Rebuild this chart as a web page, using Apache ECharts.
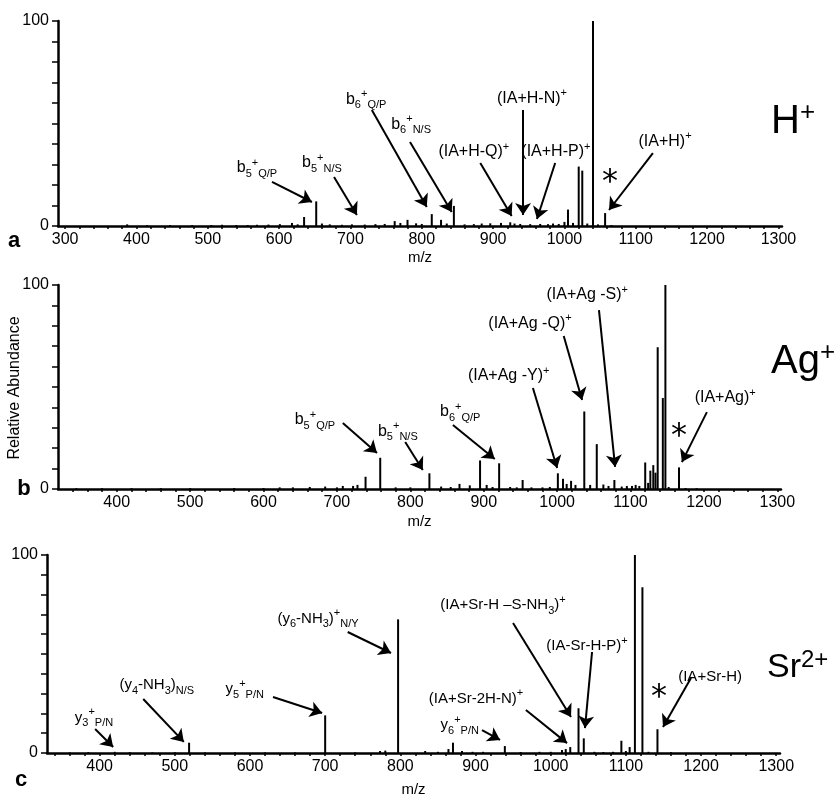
<!DOCTYPE html>
<html>
<head>
<meta charset="utf-8">
<script src="https://cdn.jsdelivr.net/npm/echarts@6/dist/echarts.min.js"></script>
<style>
  html, body { margin: 0; padding: 0; background: #fff; }
  #chart { width: 837px; height: 796px; }
</style>
</head>
<body>
<div id="chart"></div>
<script>
// ---- Spectrum a: H+ adduct (m/z, relative abundance %) ----
const mzH = [387, 415, 447, 478, 505, 520, 540, 556, 569, 585, 601, 618, 626, 635, 652, 660, 671, 688, 702, 720, 735, 748, 762, 770, 780, 792, 800, 814, 827, 835, 845, 860, 873, 884, 896, 911, 924, 930, 938, 952, 966, 977, 984, 992, 1000, 1005, 1012, 1020, 1025, 1032, 1040, 1047, 1057, 1066];
const abH = [0.8, 0.4, 0.4, 0.4, 0.5, 0.6, 0.5, 0.5, 0.6, 0.7, 0.9, 1.5, 0.8, 4.4, 12, 1.2, 0.8, 0.6, 0.8, 0.7, 0.9, 1.0, 2.4, 1.5, 3.0, 1.3, 1.0, 5.8, 3.0, 1.2, 9.8, 0.8, 0.9, 1.2, 1.3, 1.5, 1.8, 1.2, 1.0, 0.9, 1.0, 0.9, 1.2, 1.0, 2.0, 8.0, 1.5, 29, 27, 1.2, 100, 0.8, 6.3, 0.5];

// ---- Spectrum b: Ag+ adduct ----
const mzAg = [345, 380, 420, 460, 500, 560, 600, 622, 640, 663, 684, 700, 708, 722, 728, 739, 759, 780, 800, 826, 842, 855, 867, 881, 895, 904, 912, 921, 936, 945, 953, 965, 980, 990, 1001, 1008, 1013, 1019, 1025, 1037, 1045, 1054, 1063, 1070, 1078, 1088, 1095, 1102, 1107, 1112, 1120, 1124, 1127, 1131, 1134, 1137, 1144, 1147.5, 1152, 1166, 1175, 1190];
const abAg = [0.4, 0.4, 0.4, 0.4, 0.4, 0.5, 0.5, 0.8, 0.8, 1.0, 1.2, 0.8, 1.5, 1.5, 2.0, 6.0, 15.3, 0.8, 0.8, 7.7, 1.2, 1.0, 2.5, 1.8, 14, 2.0, 1.0, 12.6, 1.0, 0.8, 4.4, 0.8, 0.8, 1.0, 7.7, 5.0, 2.5, 4.0, 2.0, 38, 2.0, 22, 2.2, 1.5, 4.4, 1.2, 1.5, 1.5, 2.0, 1.5, 13, 3.0, 9.0, 11.7, 8.0, 69.5, 44.6, 100, 1.0, 10.6, 0.5, 0.4];

// ---- Spectrum c: Sr2+ adduct ----
const mzSr = [360, 385, 420, 440, 470, 500, 519, 540, 580, 620, 660, 700, 740, 773, 780, 797, 833, 850, 864, 870, 882, 896, 910, 939, 960, 985, 1000, 1015, 1020, 1026, 1037, 1044, 1058, 1070, 1083, 1094, 1100, 1105, 1112, 1122, 1130, 1142, 1160];
const abSr = [0.3, 0.4, 0.6, 0.4, 0.3, 0.4, 5.2, 0.3, 0.3, 0.3, 0.3, 19, 0.3, 1.0, 1.2, 67.5, 1.0, 0.6, 2.0, 5.2, 1.0, 0.6, 0.6, 3.5, 0.5, 0.6, 0.6, 1.5, 2.0, 3.0, 22.6, 7.4, 0.6, 0.5, 0.6, 6.2, 1.0, 3.0, 100, 83.7, 0.6, 12, 0.4];

// ---- Axis tick labels ----
const ticksH = [300, 400, 500, 600, 700, 800, 900, 1000, 1100, 1200, 1300];
const ticksAgSr = [400, 500, 600, 700, 800, 900, 1000, 1100, 1200, 1300];
const abundanceLabels = [0, 100];

// ---- Fragment labels: text, label anchor, arrow start, arrow tip (data coords) ----
const calloutsH = [
  { text: 'b{sub|5}{sup|+}{sub|Q/P}', at: [569, 28.3], from: [590, 21.5], to: [646, 11.7] },
  { text: 'b{sub|5}{sup|+}{sub|N/S}', at: [660, 30.7], from: [677, 23.9], to: [709, 5.4] },
  { text: 'b{sub|6}{sup|+}{sub|Q/P}', at: [722, 61.5], from: [730, 56.6], to: [807, 9.3] },
  { text: 'b{sub|6}{sup|+}{sub|N/S}', at: [785, 49.3], from: [783.5, 41], to: [842, 6.8] },
  { text: '(IA+H-Q){sup|+}', at: [873, 36.1], from: [882, 30.7], to: [926, 4.9] },
  { text: '(IA+H-N){sup|+}', at: [954.5, 62], from: [942, 56.6], to: [942, 5.4] },
  { text: '(IA+H-P){sup|+}', at: [988, 36.1], from: [987, 30.7], to: [961.5, 3.4] },
  { text: '(IA+H){sup|+}', at: [1141, 41], from: [1124, 35.6], to: [1062.5, 7.8] }
];
const calloutsAg = [
  { text: 'b{sub|5}{sup|+}{sub|Q/P}', at: [670, 33.8], from: [708, 32.4], to: [754.6, 17.6] },
  { text: 'b{sub|5}{sup|+}{sub|N/S}', at: [783, 28], from: [793, 23], to: [817, 9.3] },
  { text: 'b{sub|6}{sup|+}{sub|Q/P}', at: [868, 37.7], from: [858, 31.4], to: [915, 14.7] },
  { text: '(IA+Ag -Y){sup|+}', at: [934, 55.4], from: [967, 49.5], to: [1000, 10.3] },
  { text: '(IA+Ag -Q){sup|+}', at: [963, 80.9], from: [1009, 75], to: [1034, 43.6] },
  { text: '(IA+Ag -S){sup|+}', at: [1041, 95.1], from: [1057, 87.7], to: [1079, 10.8] },
  { text: '(IA+Ag){sup|+}', at: [1229, 44.6], from: [1204, 37.7], to: [1170, 13.2] }
];
const calloutsSr = [
  { text: 'y{sub|3}{sup|+}{sub|P/N}', at: [392.5, 17.7], from: [394, 12.1], to: [418, 3] },
  { text: '(y{sub|4}-NH{sub|3}){sub|N/S}', at: [476, 34.3], from: [458, 27.3], to: [512, 5.6] },
  { text: 'y{sub|5}{sup|+}{sub|P/N}', at: [593, 32.3], from: [630.6, 28.3], to: [696, 20.2] },
  { text: '(y{sub|6}-NH{sub|3}){sup|+}{sub|N/Y}', at: [690.5, 67.7], from: [730, 61.1], to: [787.6, 50.5] },
  { text: 'y{sub|6}{sup|+}{sub|P/N}', at: [879, 14.1], from: [908.6, 11.6], to: [932.6, 6.6] },
  { text: '(IA+Sr-2H-N){sup|+}', at: [900.6, 27.3], from: [967, 21.7], to: [1021.7, 5] },
  { text: '(IA+Sr-H \u2013S-NH{sub|3}){sup|+}', at: [936.5, 74.7], from: [949.9, 65.7], to: [1027, 18.2] },
  { text: '(IA-Sr-H-P){sup|+}', at: [1048.3, 54], from: [1055, 51], to: [1045.6, 12.6] },
  { text: '(IA+Sr-H)', at: [1212, 38.4], from: [1186.6, 37.9], to: [1149.4, 13.1] }
];
// asterisk marking the intact adduct ion
const starH = [1064, 21];
const starAg = [1166, 25.5];
const starSr = [1144, 27.8];

const font = "'Liberation Sans', Arial, Helvetica, sans-serif";
const ink = '#000';

const zip = (mz, ab) => mz.map((m, i) => [m, ab[i]]);

const richText = {
  sup: { fontSize: 11, verticalAlign: 'top', lineHeight: 12, fontFamily: font, color: ink },
  sub: { fontSize: 11, verticalAlign: 'bottom', lineHeight: 12, fontFamily: font, color: ink }
};

// minor tick positions every 20 m/z
function minorTicks(from, to) {
  const out = [];
  for (let v = from; v <= to; v += 20) out.push(v);
  return out;
}

function xAxisFor(idx, min, labels, firstTick, nameGap) {
  return {
    type: 'value', gridIndex: idx, min: min, max: 1305,
    name: 'm/z', nameLocation: 'middle', nameGap: nameGap,
    nameTextStyle: { fontFamily: font, fontSize: 15, color: ink },
    axisLine: { show: true, onZero: false, lineStyle: { color: ink, width: 2.5 } },
    axisTick: { show: true, length: 3, customValues: minorTicks(firstTick, 1300), lineStyle: { color: ink, width: 1.5 } },
    axisLabel: { customValues: labels, fontFamily: font, fontSize: 16, color: ink, margin: 6, formatter: v => String(v) },
    splitLine: { show: false }
  };
}

function yAxisFor(idx) {
  return {
    type: 'value', gridIndex: idx, min: 0, max: 100, interval: 10,
    axisLine: { show: true, lineStyle: { color: ink, width: 2.5 } },
    axisTick: { show: true, length: 6, lineStyle: { color: ink, width: 1.5 } },
    axisLabel: {
      fontFamily: font, fontSize: 16, color: ink, margin: 9,
      formatter: v => (abundanceLabels.indexOf(v) >= 0 ? String(v) : '')
    },
    splitLine: { show: false }
  };
}

function peakSeries(idx, mz, ab) {
  return {
    type: 'bar', xAxisIndex: idx, yAxisIndex: idx, silent: true, animation: false,
    barWidth: 2, itemStyle: { color: ink },
    data: zip(mz, ab)
  };
}

const textLabel = {
  show: true, position: 'inside', color: ink, opacity: 1,
  textBorderWidth: 0, textShadowBlur: 0, fontFamily: font
};

function calloutSeries(idx, list, fontSize) {
  return {
    type: 'scatter', xAxisIndex: idx, yAxisIndex: idx, silent: true, animation: false,
    symbolSize: 0, itemStyle: { color: ink }, z: 5,
    data: list.map(c => ({ value: c.at, label: { formatter: c.text } })),
    label: Object.assign({}, textLabel, { fontSize: fontSize, lineHeight: 22, rich: richText }),
    markLine: {
      silent: true, animation: false, symbol: ['none', 'arrow'], symbolSize: 12,
      lineStyle: { color: ink, width: 2, type: 'solid' },
      itemStyle: { color: ink },
      label: { show: false },
      data: list.map(c => [{ coord: c.from }, { coord: c.to }])
    }
  };
}

function starSeries(idx, pos) {
  return {
    type: 'scatter', xAxisIndex: idx, yAxisIndex: idx, silent: true, animation: false,
    symbolSize: 0, itemStyle: { color: ink },
    data: [pos],
    label: Object.assign({}, textLabel, { formatter: '*', fontFamily: "'DejaVu Sans', sans-serif", fontSize: 32 })
  };
}

const chart = echarts.init(document.getElementById('chart'), null, { renderer: 'canvas' });

chart.setOption({
  backgroundColor: '#fff',
  animation: false,
  grid: [
    { left: 58, top: 21, width: 724, height: 205, outerBoundsMode: 'none' },
    { left: 58, top: 285, width: 723, height: 204, outerBoundsMode: 'none' },
    { left: 47, top: 555, width: 733, height: 198, outerBoundsMode: 'none' }
  ],
  xAxis: [
    xAxisFor(0, 290, ticksH, 300, 24),
    xAxisFor(1, 320, ticksAgSr, 340, 25),
    xAxisFor(2, 330, ticksAgSr, 340, 29)
  ],
  yAxis: [yAxisFor(0), yAxisFor(1), yAxisFor(2)],
  series: [
    peakSeries(0, mzH, abH),
    peakSeries(1, mzAg, abAg),
    peakSeries(2, mzSr, abSr),
    calloutSeries(0, calloutsH, 16),
    calloutSeries(1, calloutsAg, 16),
    calloutSeries(2, calloutsSr, 15),
    starSeries(0, starH),
    starSeries(1, starAg),
    starSeries(2, starSr)
  ],
  graphic: [
    { type: 'text', x: 14, y: 241, style: { text: 'a', fontFamily: font, fontSize: 22, fontWeight: 'bold', fill: ink, align: 'center', verticalAlign: 'middle' } },
    { type: 'text', x: 24, y: 489, style: { text: 'b', fontFamily: font, fontSize: 22, fontWeight: 'bold', fill: ink, align: 'center', verticalAlign: 'middle' } },
    { type: 'text', x: 21, y: 780, style: { text: 'c', fontFamily: font, fontSize: 22, fontWeight: 'bold', fill: ink, align: 'center', verticalAlign: 'middle' } },
    { type: 'text', x: 15, y: 388, rotation: Math.PI / 2, style: { text: 'Relative Abundance', fontFamily: font, fontSize: 16, fill: ink, align: 'center', verticalAlign: 'middle' } },
    { type: 'text', x: 771, y: 122, style: {
        text: '{m|H}{s|+}', align: 'left', verticalAlign: 'middle',
        rich: { m: { fontFamily: font, fontSize: 40, fill: ink, lineHeight: 44 }, s: { fontFamily: font, fontSize: 26, fill: ink, verticalAlign: 'top', lineHeight: 30 } } } },
    { type: 'text', x: 771, y: 362, style: {
        text: '{m|Ag}{s|+}', align: 'left', verticalAlign: 'middle',
        rich: { m: { fontFamily: font, fontSize: 40, fill: ink, lineHeight: 44 }, s: { fontFamily: font, fontSize: 26, fill: ink, verticalAlign: 'top', lineHeight: 30 } } } },
    { type: 'text', x: 767, y: 668, style: {
        text: '{m|Sr}{s|2+}', align: 'left', verticalAlign: 'middle',
        rich: { m: { fontFamily: font, fontSize: 34, fill: ink, lineHeight: 40 }, s: { fontFamily: font, fontSize: 24, fill: ink, verticalAlign: 'top', lineHeight: 26 } } } }
  ]
});
</script>
</body>
</html>
